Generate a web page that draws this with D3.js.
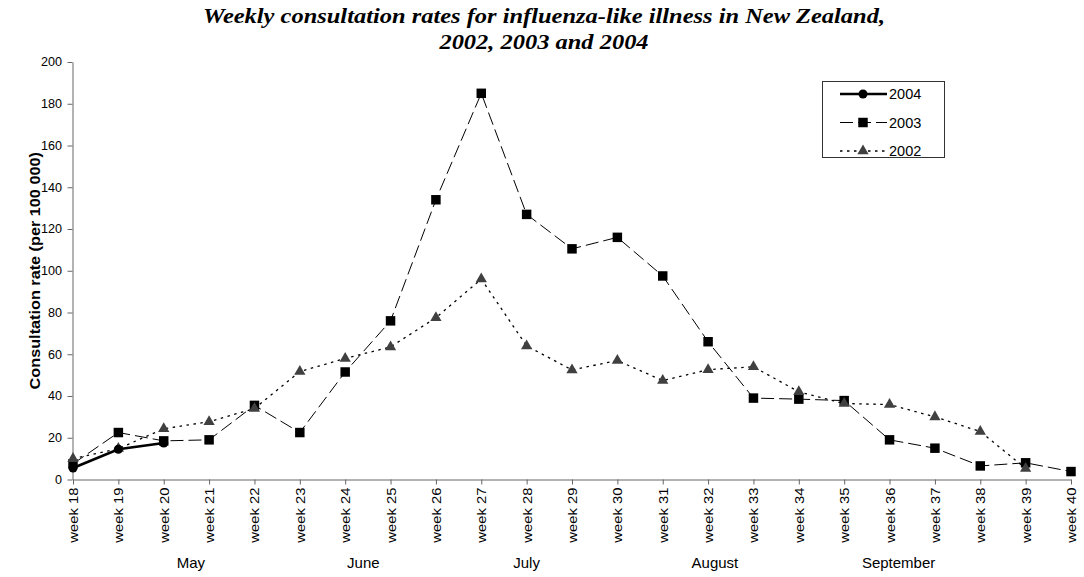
<!DOCTYPE html>
<html>
<head>
<meta charset="utf-8">
<script src="https://cdn.jsdelivr.net/npm/d3@7"></script>
<style>
  body { margin: 0; background: #fff; }
  svg { display: block; font-family: Arial, "Liberation Sans", sans-serif; }
</style>
</head>
<body>
<div id="chart"></div>
<script>
const width = 1084;
const height = 577;

const weeks = [18, 19, 20, 21, 22, 23, 24, 25, 26, 27, 28, 29, 30, 31, 32, 33, 34, 35, 36, 37, 38, 39, 40];
const rates2004 = [5.5, 14.5, 17.5];
const rates2003 = [7.5, 22.5, 18.5, 19, 35.5, 22.5, 51.5, 76, 134, 185, 127, 110.5, 116, 97.5, 66, 39, 38.5, 37.8, 19, 15, 6.5, 8, 3.8];
const rates2002 = [10, 14.8, 24.3, 27.7, 34, 51.7, 58, 63.5, 77.5, 96, 64, 52.5, 57, 47.4, 52.6, 54, 42, 36.4, 35.9, 30, 23, 5.3];
const months = ["May", "June", "July", "August", "September"];
const monthPos = [20.6, 24.4, 28, 32.15, 36.2];
const yTicks = [0, 20, 40, 60, 80, 100, 120, 140, 160, 180, 200];

const series = [
  { name: "2003", values: rates2003, stroke: "#000", width: 1, dash: "13,5", symbol: d3.symbolSquare, size: 90, fill: "#000" },
  { name: "2002", values: rates2002, stroke: "#000", width: 1.3, dash: "2.5,4.5", symbol: d3.symbolTriangle, size: 55, fill: "#404040" },
  { name: "2004", values: rates2004, stroke: "#000", width: 2.6, dash: null, symbol: d3.symbolCircle, size: 64, fill: "#000" }
];
const legendOrder = ["2004", "2003", "2002"];

const x = d3.scaleLinear().domain([18, 40]).range([73, 1071]);
const y = d3.scaleLinear().domain([0, 200]).range([479.5, 62]);

const svg = d3.select("#chart").append("svg")
  .attr("width", width)
  .attr("height", height);

// title (source is stretched sideways a bit)
const title = svg.append("text")
  .attr("transform", "translate(544,0) scale(1.165,1)")
  .attr("text-anchor", "middle")
  .attr("font-family", "'Liberation Serif', 'Times New Roman', serif")
  .attr("font-weight", "bold")
  .attr("font-style", "italic")
  .attr("font-size", 21);
title.append("tspan").attr("x", 0).attr("y", 23)
  .text("Weekly consultation rates for influenza-like illness in New Zealand,");
title.append("tspan").attr("x", 0).attr("y", 49)
  .text("2002, 2003 and 2004");

// y axis
const yAxis = svg.append("g")
  .attr("transform", `translate(${x(18) - 0.5},0)`)
  .call(d3.axisLeft(y).tickValues(yTicks).tickSize(5).tickSizeOuter(0));
yAxis.selectAll("line, path").attr("stroke", "#666");
yAxis.selectAll("text")
  .attr("font-family", null)
  .attr("font-size", 12)
  .attr("fill", "#000")
  .attr("x", 0)
  .attr("transform", "translate(-10.5,0) scale(1.05,1)");

svg.append("text")
  .attr("transform", `translate(39.5,${(y(0) + y(200)) / 2}) rotate(-90) scale(1.16,1)`)
  .attr("text-anchor", "middle")
  .attr("font-weight", "bold")
  .attr("font-size", 14)
  .text("Consultation rate (per 100 000)");

// x axis
const xAxis = svg.append("g")
  .attr("transform", `translate(0,${y(0)})`)
  .call(d3.axisBottom(x).tickValues(weeks).tickFormat(d => `week ${d}`).tickSize(5).tickSizeOuter(0));
xAxis.selectAll("line, path").attr("stroke", "#666");
xAxis.selectAll("text")
  .attr("font-family", null)
  .attr("font-size", 13)
  .attr("fill", "#000")
  .attr("text-anchor", "end")
  .attr("x", 0).attr("y", 0).attr("dy", null)
  .attr("transform", "translate(0,8) rotate(-90) scale(1.14,1) translate(0,4.5)");

svg.append("g")
  .selectAll("text")
  .data(months)
  .join("text")
  .attr("x", (d, i) => x(monthPos[i]))
  .attr("y", 568)
  .attr("text-anchor", "middle")
  .attr("font-size", 15)
  .text(d => d);

// lines and markers
const line = d3.line()
  .x((d, i) => x(weeks[i]))
  .y(d => y(d));

series.forEach(s => {
  const g = svg.append("g");
  g.append("path")
    .datum(s.values)
    .attr("fill", "none")
    .attr("stroke", s.stroke)
    .attr("stroke-width", s.width)
    .attr("stroke-dasharray", s.dash)
    .attr("d", line);
  g.selectAll("path.mark")
    .data(s.values)
    .join("path")
    .attr("class", "mark")
    .attr("transform", (d, i) => `translate(${x(weeks[i])},${y(d)})`)
    .attr("fill", s.fill)
    .attr("d", d3.symbol().type(s.symbol).size(s.size));
});

// legend
const legend = svg.append("g");
legend.append("rect")
  .attr("x", 822.5).attr("y", 81.5)
  .attr("width", 122).attr("height", 76)
  .attr("fill", "#fff")
  .attr("stroke", "#333");

legendOrder.forEach((name, i) => {
  const s = series.find(d => d.name === name);
  const ly = 94 + i * 28.5;
  legend.append("line")
    .attr("x1", 840).attr("x2", 887)
    .attr("y1", ly).attr("y2", ly)
    .attr("stroke", s.stroke)
    .attr("stroke-width", s.width)
    .attr("stroke-dasharray", s.dash);
  legend.append("path")
    .attr("transform", `translate(863,${ly})`)
    .attr("fill", s.fill)
    .attr("d", d3.symbol().type(s.symbol).size(s.size));
  legend.append("text")
    .attr("x", 889).attr("y", ly)
    .attr("dy", "0.35em")
    .attr("font-size", 14.5)
    .text(name);
});
</script>
</body>
</html>
